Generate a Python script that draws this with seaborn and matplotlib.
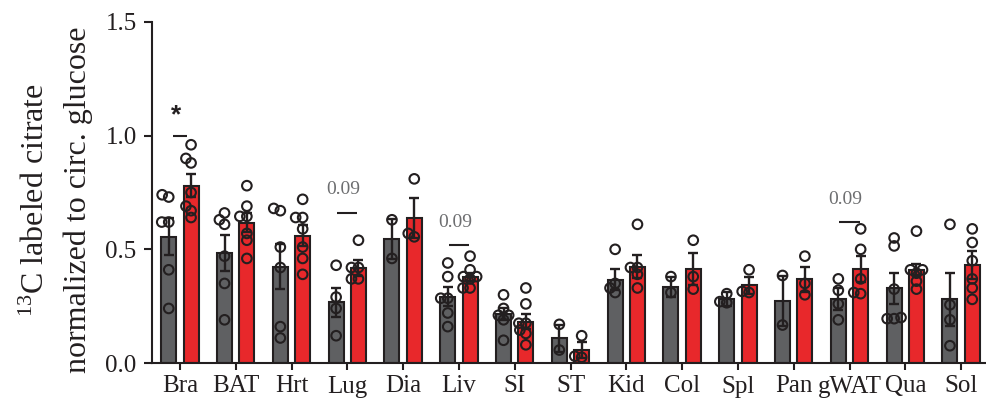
import matplotlib
matplotlib.use("Agg")
import matplotlib.pyplot as plt
import numpy as np
import pandas as pd
import seaborn as sns

# ---- data -------------------------------------------------------------
tissues = ["Bra", "BAT", "Hrt", "Lug", "Dia", "Liv", "SI", "ST",
           "Kid", "Col", "Spl", "Pan", "gWAT", "Qua", "Sol"]
groups = ["Control", "Treated"]

mean_ctrl = [0.556, 0.483, 0.424, 0.267, 0.545, 0.292, 0.214, 0.109,
             0.366, 0.336, 0.280, 0.274, 0.282, 0.329, 0.280]
sem_ctrl = [0.082, 0.078, 0.100, 0.065, 0.087, 0.041, 0.027, 0.060,
            0.047, 0.044, 0.031, 0.110, 0.047, 0.069, 0.118]
mean_trt = [0.780, 0.618, 0.559, 0.417, 0.637, 0.380, 0.182, 0.057,
            0.424, 0.414, 0.341, 0.369, 0.413, 0.410, 0.432]
sem_trt = [0.050, 0.042, 0.046, 0.034, 0.087, 0.018, 0.034, 0.034,
           0.052, 0.069, 0.036, 0.055, 0.058, 0.025, 0.061]

points_ctrl = [
    [0.73, 0.74, 0.62, 0.62, 0.41, 0.24],
    [0.66, 0.63, 0.61, 0.47, 0.35, 0.19],
    [0.67, 0.68, 0.51, 0.42, 0.16, 0.11],
    [0.43, 0.29, 0.24, 0.12],
    [0.63, 0.46],
    [0.44, 0.38, 0.285, 0.285, 0.22, 0.16],
    [0.30, 0.24, 0.21, 0.21, 0.19, 0.10],
    [0.17, 0.057],
    [0.50, 0.35, 0.33, 0.31],
    [0.38, 0.31],
    [0.305, 0.27, 0.265],
    [0.385, 0.167],
    [0.37, 0.32, 0.26, 0.19],
    [0.55, 0.515, 0.325, 0.20, 0.195, 0.195],
    [0.61, 0.256, 0.19, 0.076],
]
points_trt = [
    [0.96, 0.90, 0.88, 0.75, 0.69, 0.67, 0.64],
    [0.78, 0.69, 0.645, 0.645, 0.57, 0.54, 0.46],
    [0.72, 0.64, 0.64, 0.59, 0.51, 0.46, 0.39],
    [0.54, 0.42, 0.42, 0.37, 0.37],
    [0.81, 0.57, 0.555],
    [0.47, 0.41, 0.38, 0.38, 0.37, 0.33, 0.33],
    [0.33, 0.26, 0.175, 0.175, 0.145, 0.13, 0.08],
    [0.12, 0.03, 0.025],
    [0.61, 0.42, 0.42, 0.39, 0.33],
    [0.54, 0.38, 0.325],
    [0.41, 0.315, 0.31],
    [0.47, 0.35, 0.30],
    [0.59, 0.50, 0.37, 0.31, 0.305],
    [0.58, 0.41, 0.41, 0.395, 0.36, 0.325],
    [0.59, 0.53, 0.45, 0.37, 0.33, 0.28],
]

# significance marks: tissue, label, bracket height, label height, bracket half-width
sig_tissues = ["Bra", "Lug", "Liv", "gWAT"]
sig_labels = ["*", "0.09", "0.09", "0.09"]
sig_line_y = [1.00, 0.66, 0.518, 0.622]
sig_text_y = [1.09, 0.762, 0.617, 0.721]
sig_halfwidth = [0.13, 0.18, 0.18, 0.18]

yticks = [0.0, 0.5, 1.0, 1.5]
ytick_labels = ["0.0", "0.5", "1.0", "1.5"]

# ---- tidy tables --------------------------------------------------------
bar_df = pd.DataFrame({
    "tissue": tissues * 2,
    "group": [groups[0]] * len(tissues) + [groups[1]] * len(tissues),
    "mean": mean_ctrl + mean_trt,
    "sem": sem_ctrl + sem_trt,
})
rows = []
for g, series in zip(groups, [points_ctrl, points_trt]):
    for t, vals in zip(tissues, series):
        for v in vals:
            rows.append((t, g, v))
pts_df = pd.DataFrame(rows, columns=["tissue", "group", "value"])

# ---- style --------------------------------------------------------------
sns.set_style("ticks")
ink = "#231f20"
plt.rcParams["font.family"] = ["Liberation Serif", "DejaVu Serif"]
plt.rcParams["mathtext.fontset"] = "custom"
plt.rcParams["mathtext.rm"] = "Liberation Serif"
plt.rcParams["mathtext.it"] = "Liberation Serif:italic"
plt.rcParams["axes.edgecolor"] = ink
plt.rcParams["xtick.color"] = ink
plt.rcParams["ytick.color"] = ink

palette = {groups[0]: "#5f6062", groups[1]: "#e8282b"}

fig = plt.figure(figsize=(9.86, 4.07), dpi=100)
ax = fig.add_axes([152 / 986, 44 / 407, 837 / 986, 341 / 407])

sns.barplot(data=bar_df, x="tissue", y="mean", hue="group", order=tissues,
            hue_order=groups, palette=palette, errorbar=None, gap=0.33,
            edgecolor=ink, linewidth=1.5, saturation=1, legend=False,
            ax=ax, zorder=1)

# mean +/- SEM whiskers on each bar
for container, g in zip(ax.containers, groups):
    sub = bar_df[bar_df["group"] == g].set_index("tissue").loc[tissues]
    xs = [p.get_x() + p.get_width() / 2 for p in container.patches]
    ax.errorbar(xs, sub["mean"].values, yerr=sub["sem"].values, fmt="none",
                ecolor=ink, elinewidth=1.7, capsize=3.9, capthick=1.7,
                zorder=2)

ax.set_xlim(-0.5, len(tissues) - 0.5)
ax.set_ylim(0, 1.5)

# individual animals: lay out a compact swarm, then draw the markers
# slightly larger so neighbouring circles overlap a little
n_before = len(ax.collections)
sns.swarmplot(data=pts_df, x="tissue", y="value", hue="group", order=tissues,
              hue_order=groups, dodge=True, size=4.0, linewidth=0.8,
              palette=palette, legend=False, ax=ax, zorder=3, warn_thresh=1)
ax.set_xlim(-0.5, len(tissues) - 0.5)
ax.set_ylim(0, 1.5)
fig.canvas.draw()
for coll in ax.collections[n_before:]:
    if "draw" in coll.__dict__:
        del coll.draw
    coll.set_sizes([6.9 ** 2])
    coll.set_facecolor("none")
    coll.set_edgecolor(ink)
    coll.set_linewidth(1.5)

# significance brackets and labels
for t, lab, ly, ty, hw in zip(sig_tissues, sig_labels, sig_line_y,
                              sig_text_y, sig_halfwidth):
    xc = tissues.index(t)
    ax.plot([xc - hw, xc + hw], [ly, ly], color=ink, lw=1.5, zorder=4,
            solid_capstyle="butt")
    if lab == "*":
        ax.text(xc - 0.07, ty, lab, ha="center", va="center", fontsize=19,
                fontweight="bold", family=["Liberation Sans"], color=ink)
    else:
        ax.text(xc - 0.07, ty, lab, ha="center", va="center", fontsize=14,
                color="#6d6e70")

ax.set_yticks(yticks)
ax.set_yticklabels(ytick_labels)
ax.set_xlabel("")
ax.set_ylabel("$^{\\mathrm{13}}$C labeled citrate\nnormalized to circ. glucose",
              fontsize=23, color=ink, linespacing=1.55)
ax.yaxis.label.set_va("center")
ax.yaxis.set_label_coords(-0.113, 0.478)

ax.tick_params(axis="both", labelsize=18, width=1.5, length=5, pad=4)
ax.tick_params(axis="y", length=6, pad=5)
for side in ["top", "right"]:
    ax.spines[side].set_visible(False)
for side in ["left", "bottom"]:
    ax.spines[side].set_linewidth(1.5)
    ax.spines[side].set_color(ink)

fig.savefig("out.png", dpi=100)
